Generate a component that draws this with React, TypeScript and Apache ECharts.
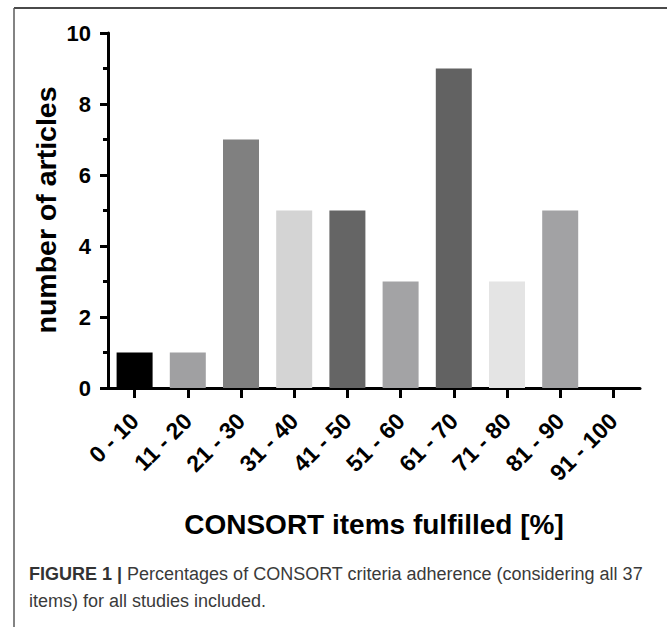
import React, { useEffect, useRef } from "react";
import * as echarts from "echarts";

const categories = ["0 - 10", "11 - 20", "21 - 30", "31 - 40", "41 - 50", "51 - 60", "61 - 70", "71 - 80", "81 - 90", "91 - 100"];
const articleCounts = [1, 1, 7, 5, 5, 3, 9, 3, 5, 0];
const barColors = ["#000000", "#a0a0a2", "#808080", "#d4d4d4", "#656565", "#a3a3a5", "#626262", "#e4e4e4", "#a2a2a4", "#a2a2a4"];
const yAxisTitle = "number of articles";
const xAxisTitle = "CONSORT items fulfilled [%]";
const captionBold = "FIGURE 1 |";
const captionLine1 = " Percentages of CONSORT criteria adherence (considering all 37";
const captionLine2 = "items) for all studies included.";

const FONT = '"Liberation Sans", Arial, Helvetica, sans-serif';

export default function App() {
  const ref = useRef<HTMLDivElement>(null);
  useEffect(() => {
    if (!ref.current) return;
    const chart = echarts.init(ref.current, null, { renderer: "svg" });
    chart.setOption({
      animation: false,
      backgroundColor: "#ffffff",
      grid: { left: 108, top: 33, width: 532, height: 355, containLabel: false },
      xAxis: {
        type: "category",
        data: categories,
        axisLine: { show: true, lineStyle: { color: "#000", width: 3 } },
        axisTick: { show: true, alignWithLabel: true, length: 10, lineStyle: { color: "#000", width: 3 } },
        axisLabel: {
          rotate: 45,
          interval: 0,
          margin: 29,
          color: "#000",
          fontFamily: FONT,
          fontWeight: "bold",
          fontSize: 23,
        },
        splitLine: { show: false },
      },
      yAxis: {
        type: "value",
        min: 0,
        max: 10,
        interval: 2,
        axisLine: { show: true, lineStyle: { color: "#000", width: 3 } },
        axisTick: { show: true, length: 8, lineStyle: { color: "#000", width: 3 } },
        minorTick: { show: true, splitNumber: 2, length: 5, lineStyle: { color: "#000", width: 3 } },
        axisLabel: {
          margin: 17,
          color: "#000",
          fontFamily: FONT,
          fontWeight: "bold",
          fontSize: 22,
        },
        splitLine: { show: false },
        minorSplitLine: { show: false },
      },
      series: [
        {
          type: "bar",
          barWidth: 36,
          data: articleCounts.map((v, i) => ({ value: v, itemStyle: { color: barColors[i] } })),
        },
      ],
      graphic: [
        {
          type: "line",
          shape: { x1: 14, y1: 8, x2: 667, y2: 8 },
          style: { stroke: "#4a4a4a", lineWidth: 2 },
        },
        {
          type: "line",
          shape: { x1: 14, y1: 8, x2: 14, y2: 627 },
          style: { stroke: "#5a5a5a", lineWidth: 1.5 },
        },
        {
          type: "text",
          x: 46,
          y: 210,
          rotation: Math.PI / 2,
          style: {
            text: yAxisTitle,
            align: "center",
            verticalAlign: "middle",
            fontFamily: FONT,
            fontWeight: "bold",
            fontSize: 28.5,
            fill: "#000",
          },
        },
        {
          type: "text",
          x: 374,
          y: 524,
          style: {
            text: xAxisTitle,
            align: "center",
            verticalAlign: "middle",
            fontFamily: FONT,
            fontWeight: "bold",
            fontSize: 28,
            fill: "#000",
          },
        },
        {
          type: "text",
          x: 29,
          y: 574,
          style: {
            text: "{b|" + captionBold + "}{r|" + captionLine1 + "}",
            align: "left",
            verticalAlign: "middle",
            rich: {
              b: { fontFamily: FONT, fontWeight: "bold", fontSize: 18, fill: "#333" },
              r: { fontFamily: FONT, fontWeight: "normal", fontSize: 18, fill: "#3a3a3a" },
            },
          },
        },
        {
          type: "text",
          x: 29,
          y: 601,
          style: {
            text: captionLine2,
            align: "left",
            verticalAlign: "middle",
            fontFamily: FONT,
            fontWeight: "normal",
            fontSize: 18,
            fill: "#3a3a3a",
          },
        },
      ],
    });
    return () => chart.dispose();
  }, []);
  return (
    <div style={{ position: "fixed", left: 0, top: 0, width: 667, height: 627, background: "#fff" }}>
      <div ref={ref} style={{ width: 667, height: 627 }} />
    </div>
  );
}
